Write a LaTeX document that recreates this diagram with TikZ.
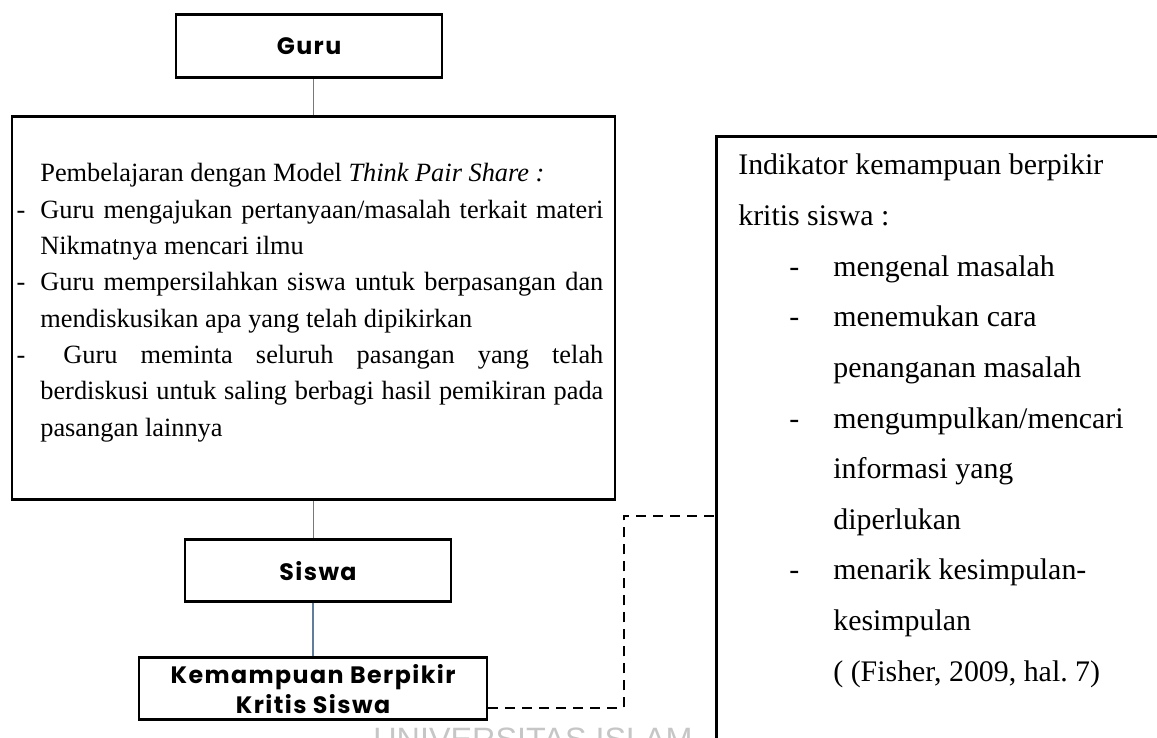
\documentclass[tikz,border=0pt]{standalone}
\usepackage{fontspec}
\setmainfont{Liberation Serif}
\newfontfamily\boxfont{Poppins}[LetterSpace=6]
\newfontfamily\markfont{Liberation Sans}

\definecolor{linkgray}{RGB}{96,125,155}

% lines of the two text boxes
\newcommand{\tpsitem}[1]{\leavevmode\llap{-\hspace{0.3cm}}\makebox[11.26cm][s]{#1}}
\newcommand{\tpsfull}[1]{\leavevmode\makebox[11.26cm][s]{#1}}
\newcommand{\inddash}{\makebox[1.9cm][l]{\hspace*{1.02cm}-}}
\newcommand{\indcont}{\hspace*{1.9cm}}
\newcommand{\plainspace}{\spaceskip=0pt \xspaceskip=0pt }

\tikzset{
  titlebox/.style={draw, line width=1.7pt, inner sep=0pt, align=center,
    font={\boxfont\bfseries\fontsize{13.5}{17}\selectfont}},
  bigbox/.style={draw, line width=1.7pt, inner sep=0pt},
  tpstext/.style={inner sep=0pt, text width=11.4cm, align=left,
    font={\fontsize{15}{20.66}\selectfont}},
  indtext/.style={inner sep=0pt, text width=9cm, align=left,
    font={\fontsize{17}{28.8}\selectfont}},
  link/.style={draw=linkgray, line width=0.6pt},
  dashlink/.style={draw, line width=1.4pt, dash pattern=on 0.2cm off 0.14cm},
}

\begin{document}
\begin{tikzpicture}
\useasboundingbox (0,0) rectangle (23.14,14.76);

\node[anchor=north west, inner sep=0pt, text=gray!45,
  font={\markfont\fontsize{18.4}{20}\selectfont}] (watermark) at (7.46,0.2) {UNIVERSITAS ISLAM};

\node[titlebox, minimum width=5.32cm, minimum height=1.26cm] (guru) at (6.18,13.83) {Guru};
\node[bigbox, minimum width=12.06cm, minimum height=7.66cm] (tps) at (6.27,8.59) {};
\node[tpstext, anchor=base west] (tpsText) at (0.8,11.12) {\plainspace
Pembelajaran dengan Model \textit{Think Pair Share :}\\
\tpsitem{Guru mengajukan pertanyaan/masalah terkait materi}\\
Nikmatnya mencari ilmu\\
\tpsitem{Guru mempersilahkan siswa untuk berpasangan dan}\\
mendiskusikan apa yang telah dipikirkan\\
\tpsitem{\ Guru meminta seluruh pasangan yang telah}\\
\tpsfull{berdiskusi untuk saling berbagi hasil pemikiran pada}\\
pasangan lainnya};
\node[titlebox, minimum width=5.32cm, minimum height=1.24cm] (siswa) at (6.36,3.34) {Siswa};
\node[titlebox, minimum width=6.96cm, minimum height=1.24cm] (kritis) at (6.26,0.98) {Kemampuan Berpikir\\Kritis Siswa};

\node[bigbox, anchor=north west, minimum width=10cm, minimum height=14cm] (indikator) at (14.3,12.06) {};
\node[indtext, anchor=base west] (indText) at (14.76,11.26) {\plainspace
Indikator kemampuan berpikir\\
kritis siswa :\\
\inddash mengenal masalah\\
\inddash menemukan cara\\
\indcont penanganan masalah\\
\inddash mengumpulkan/mencari\\
\indcont informasi yang\\
\indcont diperlukan\\
\inddash menarik kesimpulan-\\
\indcont kesimpulan\\
\indcont ( (Fisher, 2009, hal.\ 7)};

\draw[link] (tps.north) -- (tps.north |- guru.south);
\draw[link] (tps.south) -- (tps.south |- siswa.north);
\draw[link] (kritis.north) -- (kritis.north |- siswa.south);

\coordinate (bend) at (12.48,4.44);
\draw[dashlink] ([yshift=-0.38cm]kritis.east) -| (bend) -- (bend -| indikator.west);

\end{tikzpicture}
\end{document}
